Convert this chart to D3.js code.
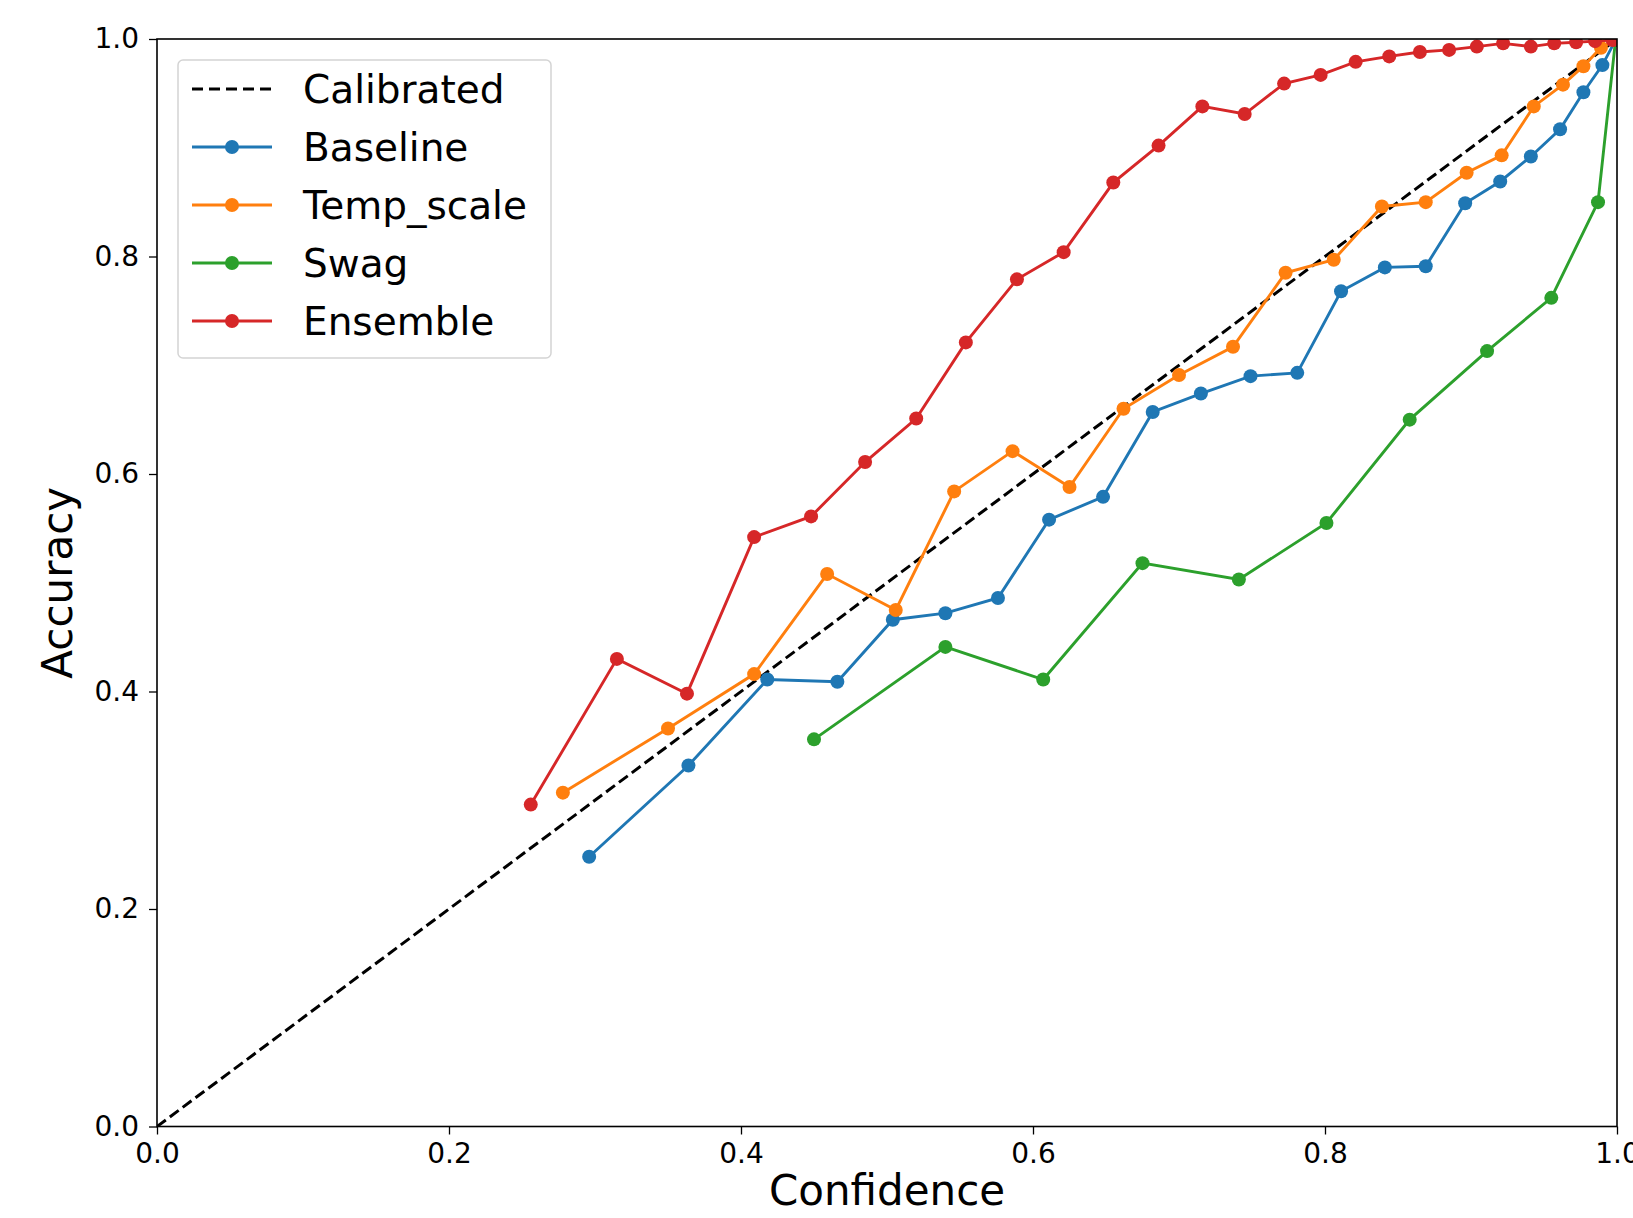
<!DOCTYPE html>
<html>
<head>
<meta charset="utf-8">
<script src="https://cdn.jsdelivr.net/npm/d3@7"></script>
<style>
    body { margin: 0; background: #fff; }
    text { font-family: 'DejaVu Sans', sans-serif; fill: #000; }
</style>
</head>
<body>
<div id="chart"></div>
<script>
'use strict';

// reliability diagram data (bin confidence vs bin accuracy)
var seriesNames = ['Baseline', 'Temp_scale', 'Swag', 'Ensemble'];
var seriesColors = ['#1f77b4', '#ff7f0e', '#2ca02c', '#d62728'];

var baselineConf = [0.296, 0.364, 0.418, 0.466, 0.504, 0.540, 0.576, 0.611, 0.648, 0.682, 0.715, 0.749, 0.781, 0.811, 0.841, 0.869, 0.896, 0.920, 0.941, 0.961, 0.977, 0.990, 0.999];
var baselineAcc = [0.248, 0.332, 0.411, 0.409, 0.466, 0.472, 0.486, 0.558, 0.579, 0.657, 0.674, 0.690, 0.693, 0.768, 0.790, 0.791, 0.849, 0.869, 0.892, 0.917, 0.951, 0.976, 0.999];

var tempConf = [0.278, 0.350, 0.409, 0.459, 0.506, 0.546, 0.586, 0.625, 0.662, 0.700, 0.737, 0.773, 0.806, 0.839, 0.869, 0.897, 0.921, 0.943, 0.963, 0.977, 0.989, 0.999];
var tempAcc = [0.307, 0.366, 0.416, 0.508, 0.475, 0.584, 0.621, 0.588, 0.660, 0.691, 0.717, 0.785, 0.797, 0.846, 0.850, 0.877, 0.893, 0.938, 0.958, 0.975, 0.992, 0.999];

var swagConf = [0.450, 0.540, 0.607, 0.675, 0.741, 0.801, 0.858, 0.911, 0.955, 0.987, 0.999];
var swagAcc = [0.356, 0.441, 0.411, 0.518, 0.503, 0.555, 0.650, 0.713, 0.762, 0.850, 0.999];

var ensConf = [0.256, 0.315, 0.363, 0.409, 0.448, 0.485, 0.520, 0.554, 0.589, 0.621, 0.655, 0.686, 0.716, 0.745, 0.772, 0.797, 0.821, 0.844, 0.865, 0.885, 0.904, 0.922, 0.941, 0.957, 0.972, 0.985, 0.997];
var ensAcc = [0.296, 0.430, 0.398, 0.542, 0.561, 0.611, 0.651, 0.721, 0.779, 0.804, 0.868, 0.902, 0.938, 0.931, 0.959, 0.967, 0.979, 0.984, 0.988, 0.990, 0.993, 0.996, 0.993, 0.996, 0.997, 0.998, 0.999];

var calibrated = [0, 1];
var tickValues = [0, 0.2, 0.4, 0.6, 0.8, 1.0];

function zipSeries(conf, acc) {
    var out = [];
    for (var i = 0; i < conf.length; i++) {
        out.push({ x: conf[i], y: acc[i] });
    }
    return out;
}

var allSeries = [
    zipSeries(baselineConf, baselineAcc),
    zipSeries(tempConf, tempAcc),
    zipSeries(swagConf, swagAcc),
    zipSeries(ensConf, ensAcc)
];

drawChart();

function drawChart() {
    var width = 1633;
    var height = 1218;
    var margin = { top: 39, right: 16, bottom: 91.5, left: 157 };
    var innerW = width - margin.left - margin.right;
    var innerH = height - margin.top - margin.bottom;

    var svg = d3.select('#chart')
        .append('svg')
        .attr('width', width)
        .attr('height', height);

    var g = svg.append('g')
        .attr('transform', 'translate(' + margin.left + ',' + margin.top + ')');

    var x = d3.scaleLinear().domain([0, 1]).range([0, innerW]);
    var y = d3.scaleLinear().domain([0, 1]).range([innerH, 0]);

    g.append('clipPath')
        .attr('id', 'plot-clip')
        .append('rect')
        .attr('width', innerW)
        .attr('height', innerH);

    var plot = g.append('g').attr('clip-path', 'url(#plot-clip)');

    // diagonal = perfect calibration
    plot.append('line')
        .attr('x1', x(calibrated[0])).attr('y1', y(calibrated[0]))
        .attr('x2', x(calibrated[1])).attr('y2', y(calibrated[1]))
        .attr('stroke', '#000')
        .attr('stroke-width', 3)
        .attr('stroke-dasharray', '11,5');

    var line = d3.line()
        .x(function(d) { return x(d.x); })
        .y(function(d) { return y(d.y); });

    allSeries.forEach(function(data, i) {
        plot.append('path')
            .datum(data)
            .attr('d', line)
            .attr('fill', 'none')
            .attr('stroke', seriesColors[i])
            .attr('stroke-width', 2.9);

        plot.selectAll('.dot-' + i)
            .data(data)
            .enter()
            .append('circle')
            .attr('class', 'dot-' + i)
            .attr('cx', function(d) { return x(d.x); })
            .attr('cy', function(d) { return y(d.y); })
            .attr('r', 7)
            .attr('fill', seriesColors[i]);
    });

    // axes
    var fmt = d3.format('.1f');
    var xAxis = g.append('g')
        .attr('transform', 'translate(0,' + innerH + ')')
        .call(d3.axisBottom(x).tickValues(tickValues).tickFormat(fmt).tickSize(8).tickPadding(9));
    var yAxis = g.append('g')
        .call(d3.axisLeft(y).tickValues(tickValues).tickFormat(fmt).tickSize(8).tickPadding(10));

    [xAxis, yAxis].forEach(function(ax) {
        ax.select('.domain').remove();
        ax.selectAll('.tick line').attr('stroke', '#000').attr('stroke-width', 1.3);
        ax.selectAll('.tick text')
            .attr('font-size', 28)
            .attr('font-family', "'DejaVu Sans', sans-serif")
            .attr('fill', '#000');
    });

    // frame (all four spines)
    g.append('rect')
        .attr('width', innerW)
        .attr('height', innerH)
        .attr('fill', 'none')
        .attr('stroke', '#000')
        .attr('stroke-width', 1.6);

    svg.append('text')
        .attr('x', margin.left + innerW / 2)
        .attr('y', 1205)
        .attr('text-anchor', 'middle')
        .attr('font-size', 42)
        .text('Confidence');

    svg.append('text')
        .attr('transform', 'translate(72,' + (margin.top + innerH / 2) + ') rotate(-90)')
        .attr('text-anchor', 'middle')
        .attr('font-size', 42)
        .text('Accuracy');

    // legend
    var legend = svg.append('g').attr('transform', 'translate(178,60)');
    legend.append('rect')
        .attr('width', 373)
        .attr('height', 298)
        .attr('rx', 5)
        .attr('fill', '#fff')
        .attr('fill-opacity', 0.8)
        .attr('stroke', '#d4d4d4')
        .attr('stroke-width', 1.5);

    var legendItems = [{ label: 'Calibrated', color: '#000', dashed: true }];
    seriesNames.forEach(function(name, i) {
        legendItems.push({ label: name, color: seriesColors[i], dashed: false });
    });

    var rows = legend.selectAll('.legend')
        .data(legendItems)
        .enter()
        .append('g')
        .attr('class', 'legend')
        .attr('transform', function(d, i) {
            return 'translate(0,' + (29 + i * 58) + ')';
        });

    rows.append('line')
        .attr('x1', 14).attr('x2', 94)
        .attr('stroke', function(d) { return d.color; })
        .attr('stroke-width', function(d) { return d.dashed ? 3 : 2.9; })
        .attr('stroke-dasharray', function(d) { return d.dashed ? '11,6' : null; });

    rows.filter(function(d) { return !d.dashed; })
        .append('circle')
        .attr('cx', 54)
        .attr('r', 7)
        .attr('fill', function(d) { return d.color; });

    rows.append('text')
        .attr('x', 125)
        .attr('y', 14)
        .attr('font-size', 39)
        .text(function(d) { return d.label; });
}
</script>
</body>
</html>
